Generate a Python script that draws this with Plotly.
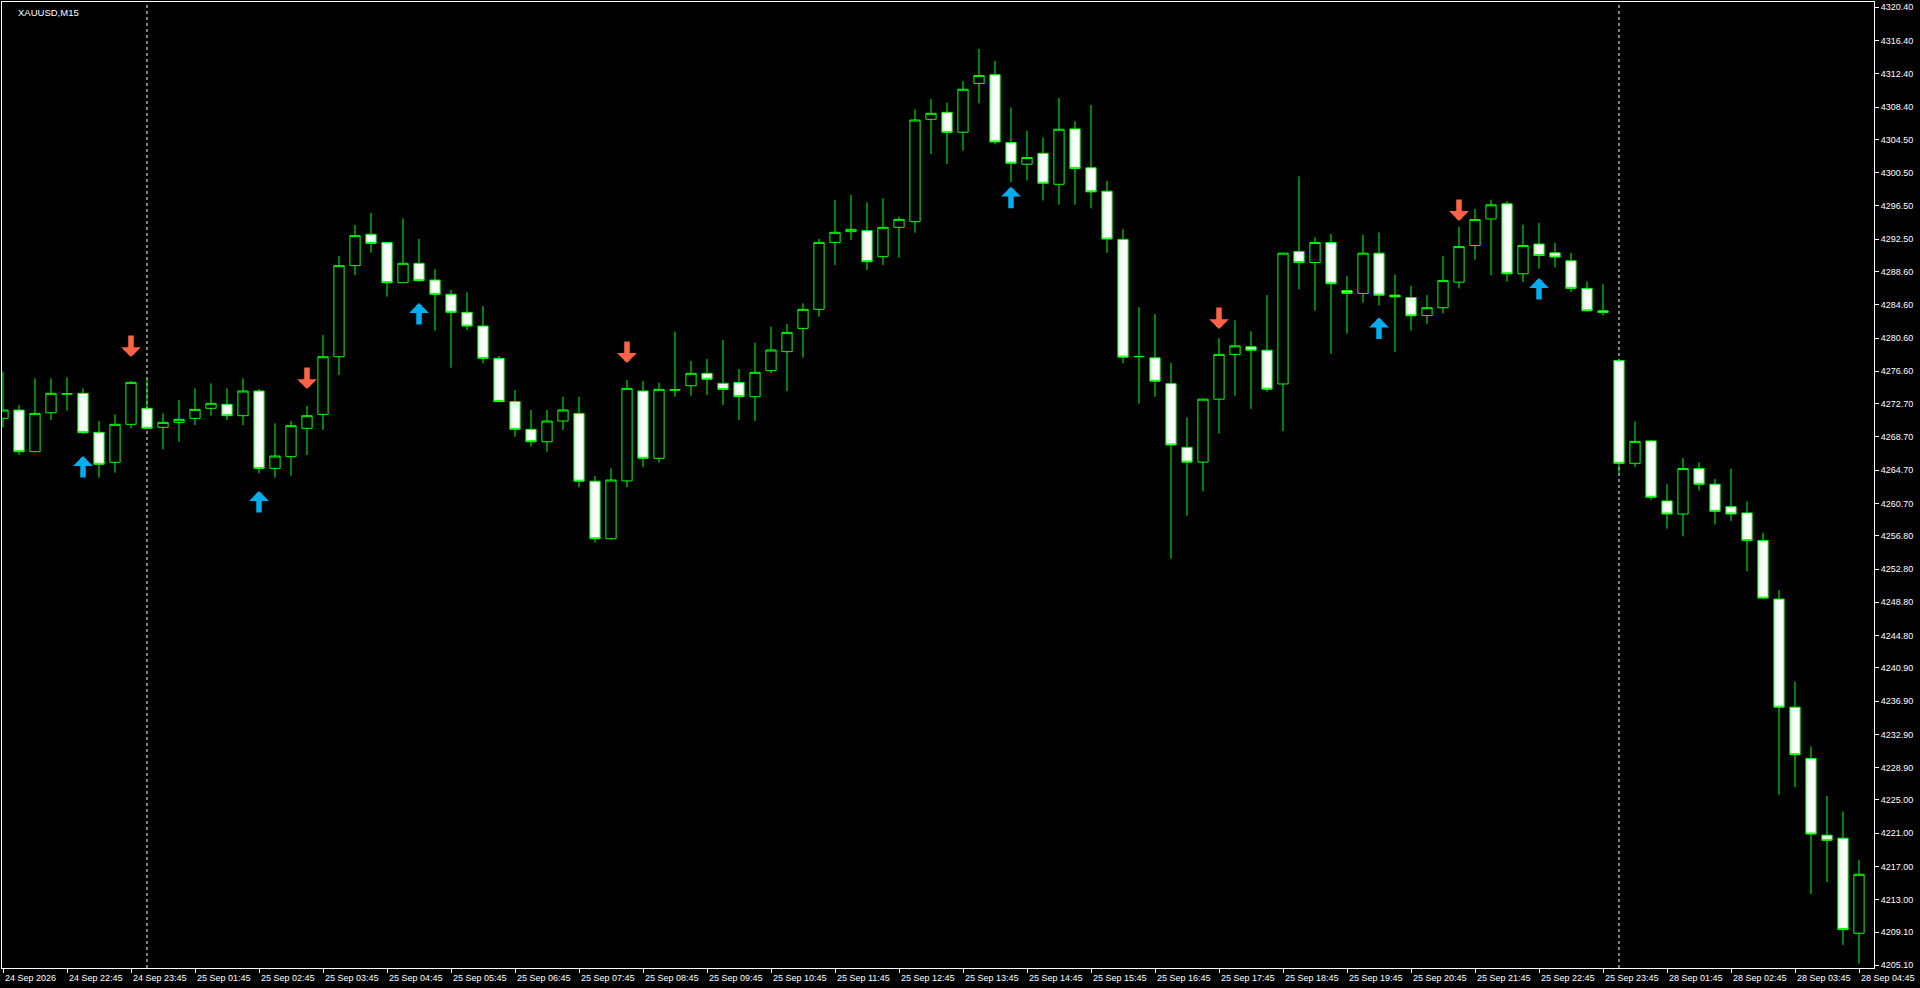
import plotly.graph_objects as go
import pandas as pd

chart_title = "XAUUSD,M15"

# trading sessions: (first bar time, number of 15-minute bars)
sessions = [("2026-09-24 21:45", 9), ("2026-09-25 01:00", 92), ("2026-09-28 01:00", 16)]

opens = [
    4270.93, 4271.93, 4266.92, 4271.61, 4273.90, 4273.94, 4269.25, 4265.64, 4270.21, 4272.14,
    4269.85, 4270.45, 4270.93, 4272.14, 4272.62, 4271.25, 4274.22, 4264.91, 4266.32, 4269.73,
    4271.41, 4278.35, 4289.31, 4293.08, 4292.11, 4287.26, 4289.59, 4287.58, 4285.86, 4283.69,
    4282.04, 4278.15, 4272.94, 4269.61, 4268.12, 4270.61, 4271.53, 4263.37, 4256.44, 4263.40,
    4274.22, 4266.12, 4274.38, 4274.86, 4276.35, 4275.14, 4275.26, 4273.54, 4276.67, 4278.96,
    4281.76, 4284.05, 4292.11, 4293.40, 4293.52, 4290.39, 4293.92, 4294.60, 4306.92, 4307.76,
    4305.36, 4311.24, 4312.28, 4304.12, 4301.51, 4302.83, 4299.10, 4305.77, 4301.09, 4298.27,
    4292.47, 4278.34, 4278.21, 4275.11, 4267.44, 4265.66, 4273.24, 4278.63, 4279.54, 4279.13,
    4275.07, 4291.02, 4289.69, 4292.10, 4286.30, 4285.96, 4290.81, 4285.76, 4285.47, 4283.30,
    4284.25, 4287.33, 4291.73, 4294.93, 4296.75, 4288.33, 4291.91, 4290.85, 4289.90, 4286.57,
    4283.87, 4277.90, 4265.52, 4268.22, 4260.99, 4259.42, 4264.89, 4263.00, 4260.30, 4259.55,
    4256.22, 4249.18, 4236.17, 4230.01, 4220.77, 4220.40, 4208.96,
]
highs = [
    4276.55, 4272.54, 4275.75, 4275.75, 4275.87, 4274.54, 4270.61, 4271.41, 4275.43, 4275.75,
    4271.53, 4273.14, 4274.54, 4275.14, 4274.54, 4275.75, 4274.46, 4270.33, 4270.61, 4272.42,
    4280.96, 4290.47, 4294.20, 4295.68, 4292.15, 4295.00, 4292.52, 4288.90, 4286.38, 4286.10,
    4284.45, 4278.43, 4274.34, 4271.94, 4271.94, 4273.54, 4273.54, 4263.99, 4264.92, 4275.55,
    4275.43, 4275.23, 4281.36, 4277.83, 4278.07, 4280.36, 4276.87, 4280.04, 4281.96, 4282.29,
    4284.77, 4292.52, 4297.21, 4297.81, 4296.93, 4297.41, 4295.20, 4308.12, 4309.36, 4308.92,
    4311.53, 4315.39, 4313.94, 4308.34, 4305.53, 4304.74, 4309.50, 4306.69, 4308.63, 4299.52,
    4293.71, 4284.31, 4283.48, 4277.59, 4271.06, 4273.33, 4280.58, 4282.73, 4281.41, 4285.76,
    4290.85, 4300.05, 4292.72, 4293.13, 4288.04, 4293.01, 4293.30, 4288.24, 4286.88, 4285.75,
    4290.47, 4293.99, 4296.12, 4297.26, 4297.07, 4294.24, 4294.43, 4292.04, 4290.85, 4287.39,
    4287.07, 4277.95, 4270.55, 4268.35, 4263.00, 4266.15, 4265.64, 4263.63, 4264.89, 4260.93,
    4257.16, 4250.25, 4239.25, 4231.45, 4225.49, 4223.60, 4217.76,
]
lows = [
    4269.85, 4266.52, 4266.92, 4270.73, 4271.85, 4269.05, 4263.79, 4264.39, 4269.73, 4269.65,
    4267.20, 4268.12, 4270.13, 4271.25, 4270.73, 4270.13, 4264.31, 4263.79, 4264.03, 4266.52,
    4269.53, 4276.15, 4288.18, 4290.87, 4285.58, 4287.22, 4287.38, 4281.48, 4277.03, 4281.56,
    4277.55, 4272.90, 4268.73, 4267.52, 4266.92, 4269.53, 4262.63, 4256.00, 4256.29, 4262.63,
    4265.04, 4265.60, 4273.54, 4273.66, 4273.74, 4272.54, 4270.73, 4270.61, 4276.35, 4274.22,
    4278.23, 4283.17, 4289.39, 4292.40, 4288.78, 4289.39, 4290.27, 4293.28, 4302.75, 4301.54,
    4303.16, 4308.84, 4303.91, 4299.35, 4299.56, 4297.15, 4296.66, 4296.66, 4296.20, 4290.85,
    4277.55, 4272.70, 4273.53, 4254.05, 4259.23, 4262.13, 4269.10, 4273.66, 4272.08, 4274.15,
    4269.39, 4286.46, 4283.89, 4278.71, 4281.12, 4284.85, 4284.51, 4278.92, 4281.49, 4282.30,
    4283.56, 4286.57, 4290.03, 4288.14, 4287.39, 4287.33, 4288.96, 4289.09, 4286.13, 4283.80,
    4283.30, 4264.26, 4265.08, 4261.11, 4257.66, 4256.72, 4262.25, 4258.16, 4258.60, 4252.51,
    4249.25, 4225.61, 4226.56, 4213.67, 4215.12, 4207.57, 4205.31,
]
closes = [
    4271.93, 4266.92, 4271.53, 4273.94, 4273.86, 4269.21, 4265.40, 4270.21, 4275.26, 4269.73,
    4270.45, 4270.81, 4272.01, 4272.74, 4271.25, 4274.22, 4264.91, 4266.40, 4270.05, 4271.25,
    4278.35, 4289.31, 4292.92, 4291.99, 4287.26, 4289.59, 4287.50, 4285.86, 4283.69, 4282.04,
    4278.15, 4272.94, 4269.61, 4268.12, 4270.61, 4271.94, 4263.37, 4256.44, 4263.51, 4274.54,
    4266.12, 4274.42, 4274.34, 4276.35, 4275.63, 4274.42, 4273.54, 4276.47, 4279.16, 4281.28,
    4284.05, 4292.11, 4293.32, 4293.68, 4289.79, 4293.92, 4294.88, 4306.84, 4307.64, 4305.35,
    4310.54, 4312.20, 4304.20, 4301.63, 4302.33, 4299.23, 4305.73, 4301.01, 4298.19, 4292.51,
    4278.30, 4278.38, 4275.40, 4267.73, 4265.66, 4273.24, 4278.63, 4279.66, 4279.13, 4274.44,
    4290.81, 4289.69, 4292.10, 4287.13, 4285.96, 4290.81, 4285.76, 4285.55, 4283.27, 4284.25,
    4287.51, 4291.60, 4294.87, 4296.63, 4288.33, 4291.73, 4290.53, 4290.34, 4286.57, 4283.87,
    4283.68, 4265.52, 4268.16, 4261.43, 4259.42, 4264.89, 4263.00, 4259.74, 4259.42, 4256.22,
    4249.30, 4236.17, 4230.45, 4220.90, 4220.14, 4209.40, 4216.06,
]

# signal arrows: bar index and arrow-tip price
buy_idx = [5, 16, 26, 63, 86, 96]
buy_price = [4266.40, 4262.19, 4284.81, 4298.81, 4283.07, 4287.82]
sell_idx = [8, 19, 39, 76, 91]
sell_price = [4278.31, 4274.46, 4277.59, 4281.68, 4294.68]

y_tick_labels = [
    "4320.40", "4316.40", "4312.40", "4308.40", "4304.50", "4300.50", "4296.50", "4292.50",
    "4288.60", "4284.60", "4280.60", "4276.60", "4272.70", "4268.70", "4264.70", "4260.70",
    "4256.80", "4252.80", "4248.80", "4244.80", "4240.90", "4236.90", "4232.90", "4228.90",
    "4225.00", "4221.00", "4217.00", "4213.00", "4209.10", "4205.10",
]

GREEN = "#00FF00"
BLUE = "#00AEEF"
RED = "#FF6347"
FONT = "Liberation Sans, Arial, sans-serif"
FSIZE = 9

times = []
for start, n in sessions:
    times += list(pd.date_range(start, periods=n, freq="15min"))
x = list(range(len(times)))

label_idx = list(range(0, len(times), 4))
label_txt = []
for k in label_idx:
    if k == 0:
        label_txt.append(times[k].strftime("%d %b %Y"))
    else:
        label_txt.append(times[k].strftime("%d %b %H:%M"))

sep_idx = [i for i in range(1, len(times)) if times[i].date() != times[i - 1].date()]

fig = go.Figure()
fig.add_trace(go.Candlestick(
    x=x, open=opens, high=highs, low=lows, close=closes,
    increasing=dict(line=dict(color=GREEN, width=1), fillcolor="black"),
    decreasing=dict(line=dict(color=GREEN, width=1), fillcolor="white"),
    whiskerwidth=0, hoverinfo="skip", showlegend=False,
))

annotations = []
for i, p in zip(buy_idx, buy_price):
    annotations.append(dict(x=i, y=p, xref="x", yref="y", text="", showarrow=True,
                            arrowhead=1, arrowsize=0.6, arrowwidth=5.5, arrowcolor=BLUE,
                            ax=0, ay=23))
for i, p in zip(sell_idx, sell_price):
    annotations.append(dict(x=i, y=p, xref="x", yref="y", text="", showarrow=True,
                            arrowhead=1, arrowsize=0.6, arrowwidth=5.5, arrowcolor=RED,
                            ax=0, ay=-23))
for k, t in zip(label_idx, label_txt):
    annotations.append(dict(x=k, y=0, xref="x", yref="paper", text=t, showarrow=False,
                            xanchor="left", yanchor="top", yshift=-3,
                            font=dict(family=FONT, size=FSIZE, color="white")))
annotations.append(dict(x=0, y=1, xref="paper", yref="paper", text=chart_title,
                        showarrow=False, xanchor="left", yanchor="top", xshift=14, yshift=-3,
                        font=dict(family=FONT, size=FSIZE + 0.5, color="white")))

shapes = []
for i in sep_idx:
    shapes.append(dict(type="line", xref="x", yref="paper", x0=i, x1=i, y0=0, y1=1,
                       layer="below", line=dict(color="white", width=1, dash="3px,3px")))

fig.update_layout(
    width=1920, height=988,
    margin=dict(l=2, r=46, t=2, b=20, pad=0),
    paper_bgcolor="black", plot_bgcolor="black",
    showlegend=False, boxgap=0.36, boxgroupgap=0,
    font=dict(family=FONT, size=FSIZE, color="white"),
    annotations=annotations, shapes=shapes,
    xaxis=dict(range=[-0.0625, 116.9375], showgrid=False, zeroline=False,
               showline=True, linecolor="white", linewidth=1, mirror=True,
               tickvals=label_idx, showticklabels=False, ticks="outside",
               ticklen=4, tickcolor="white", rangeslider=dict(visible=False),
               fixedrange=True),
    yaxis=dict(side="right", range=[4204.78, 4321.04], showgrid=False, zeroline=False,
               showline=True, linecolor="white", linewidth=1, mirror=True,
               tickvals=[float(v) for v in y_tick_labels], ticktext=y_tick_labels,
               ticks="outside", ticklen=4, tickcolor="white",
               tickfont=dict(family=FONT, size=FSIZE, color="white"), fixedrange=True),
)

fig.write_html(
    "out.html",
    config={"displayModeBar": False},
    post_script="document.body.style.margin='0';document.body.style.overflow='hidden';document.body.style.background='black';",
)
